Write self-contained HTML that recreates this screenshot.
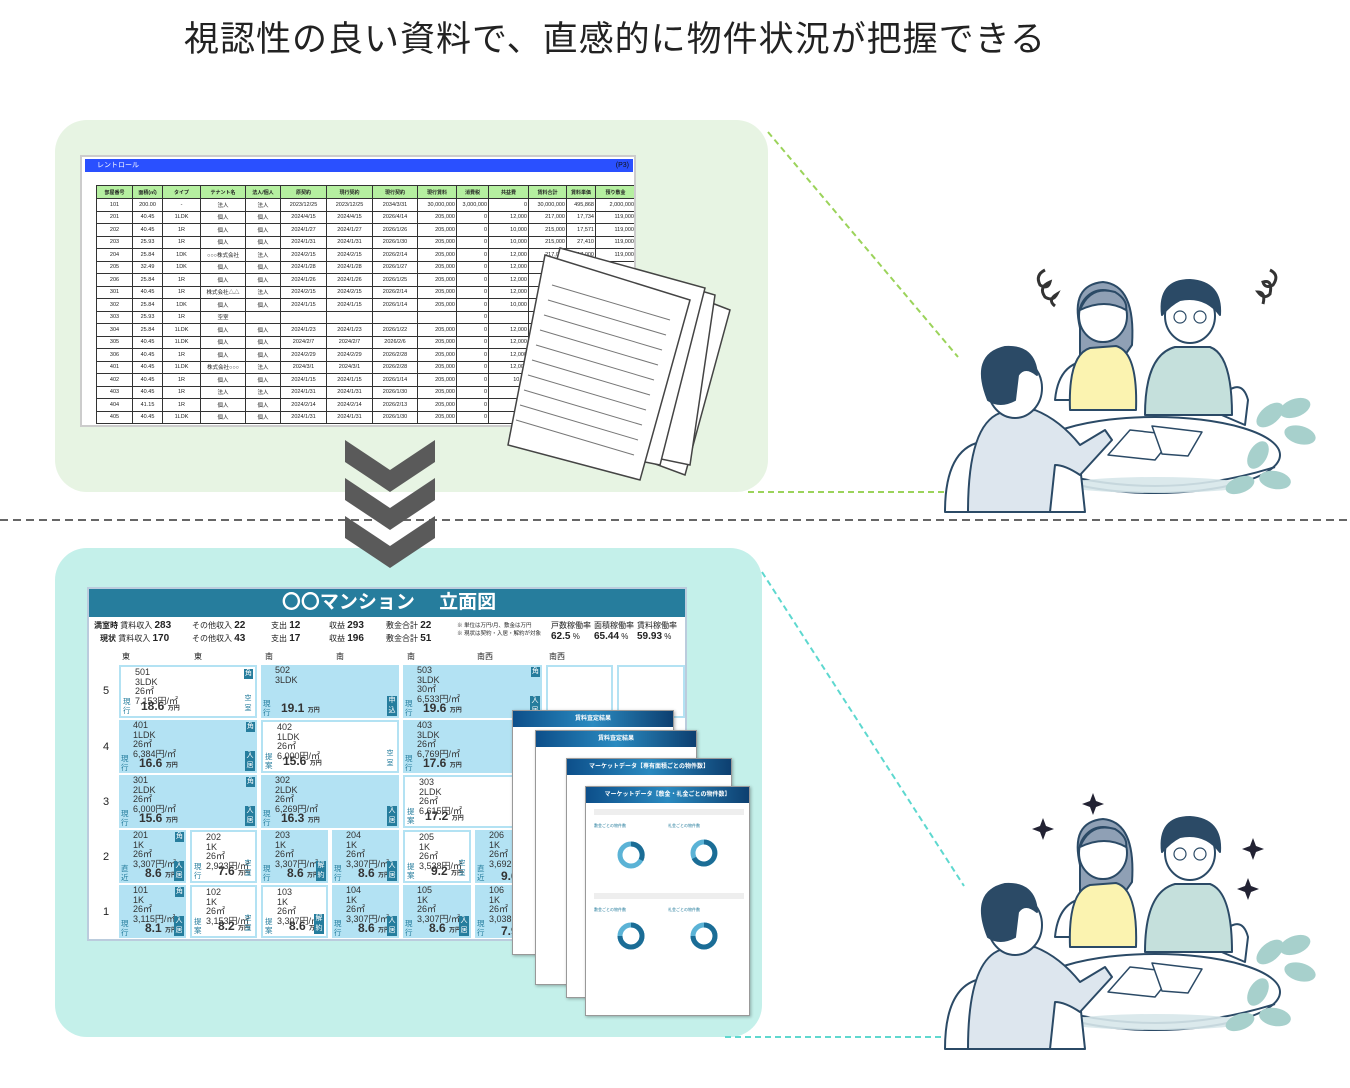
<!DOCTYPE html>
<html><head><meta charset="utf-8">
<style>
*{margin:0;padding:0;box-sizing:border-box}
body{width:1350px;height:1088px;background:#fff;position:relative;overflow:hidden;font-family:"Liberation Sans","Noto Sans CJK JP",sans-serif;color:#222}
.abs{position:absolute}
.title{left:0;width:1230px;top:11px;text-align:center;font-size:35px;color:#222;letter-spacing:1px}
.p1{left:55px;top:120px;width:713px;height:372px;background:#e7f4e3;border-radius:32px}
.p2{left:55px;top:548px;width:707px;height:489px;background:#c4f0ea;border-radius:32px}
.sheet{left:80px;top:155px;width:556px;height:272px;background:#fff;border:2px solid #ccc;overflow:hidden}
.sheet .bar{position:absolute;left:3px;top:2px;width:548px;height:13px;background:#2a50ff;color:#fff;font-size:7px;line-height:13px;padding-left:12px}
.sheet .bar span{position:absolute;right:4px;color:#111}
table.rr{position:absolute;left:14px;top:28px;border-collapse:collapse;font-size:5.5px;width:539px;table-layout:fixed}
table.rr td{border:1px solid #333;height:12.5px;text-align:center;white-space:nowrap;overflow:hidden}
table.rr tr.h td{background:#b5efa0;height:13px;font-size:5px;font-weight:bold}
table.rr td.r{text-align:right;padding-right:1px}
.elev{left:87px;top:587px;width:600px;height:354px;background:#fff;border:2px solid #bcd;overflow:hidden}
.elev .hd{position:absolute;left:0;top:0;width:600px;height:28px;background:#267d9d;color:#fff;font-size:19px;text-align:center;line-height:28px;font-weight:bold}
.info{position:absolute;font-size:8px;white-space:nowrap}
.info b{font-size:10px}
.c{position:absolute;background:#b3e2f3;font-size:9px;line-height:9.5px;color:#333;padding:1px 0 0 14px;overflow:hidden}
.c.w{background:#fff;border:2px solid #b3e2f3}
.c .v{position:absolute;bottom:0;font-size:12px;line-height:13px;font-weight:bold}
.c .v small{font-size:6px}
.c .l{position:absolute;left:2px;bottom:1px;font-size:7.5px;width:9px;line-height:8.5px;color:#267d9d}
.c .tg{position:absolute;right:2px;top:2px;width:9px;height:10px;background:#267d9d;color:#fff;font-size:7px;text-align:center;line-height:10px}
.c .tb{position:absolute;right:2px;bottom:2px;width:10px;height:20px;background:#267d9d;color:#fff;font-size:7px;line-height:10px;text-align:center}
.c .tb.o{background:none;color:#267d9d}
.fl{position:absolute;left:14px;font-size:11px}
.pg{position:absolute;background:#fff;border:1px solid #999;box-shadow:1px 1px 3px rgba(0,0,0,.3)}
.pg .ph{height:16px;background:linear-gradient(90deg,#0d4f8a,#2a8ac0,#0d3f70);color:#fff;font-size:6px;text-align:center;line-height:16px;font-weight:bold}
</style></head><body>
<div class="abs title">視認性の良い資料で、直感的に物件状況が把握できる</div>

<div class="abs p1"></div>
<div class="abs p2"></div>

<svg class="abs" style="left:0;top:0" width="1350" height="1088">
<line x1="0" y1="520" x2="1350" y2="520" stroke="#666" stroke-width="2" stroke-dasharray="8,5"/>
<line x1="768" y1="132" x2="958" y2="357" stroke="#9bd35a" stroke-width="2" stroke-dasharray="6,4"/>
<line x1="748" y1="492" x2="958" y2="492" stroke="#9bd35a" stroke-width="2" stroke-dasharray="6,4"/>
<line x1="762" y1="572" x2="964" y2="886" stroke="#5ed8cf" stroke-width="2" stroke-dasharray="6,4"/>
<line x1="725" y1="1037" x2="958" y2="1037" stroke="#5ed8cf" stroke-width="2" stroke-dasharray="6,4"/>
<g fill="#5a5a5a">
<polygon points="345,440 390,470 435,440 435,462 390,492 345,462"/>
<polygon points="345,478 390,508 435,478 435,500 390,530 345,500"/>
<polygon points="345,516 390,546 435,516 435,538 390,568 345,538"/>
</g>
</svg>

<div class="abs sheet">
<div class="bar">レントロール<span>(P3)</span></div>
<table class="rr">
<colgroup><col style="width:36px"><col style="width:30px"><col style="width:38px"><col style="width:45px"><col style="width:35px"><col style="width:46px"><col style="width:46px"><col style="width:45px"><col style="width:39px"><col style="width:32px"><col style="width:40px"><col style="width:38px"><col style="width:29px"><col style="width:40px"></colgroup>
<tr class="h"><td>部屋番号</td><td>面積(㎡)</td><td>タイプ</td><td>テナント名</td><td>法人/個人</td><td>原契約</td><td>現行契約</td><td>現行契約</td><td>現行賃料</td><td>消費税</td><td>共益費</td><td>賃料合計</td><td>賃料単価</td><td>預り敷金</td></tr>
<tr><td>101</td><td>200.00</td><td>-</td><td>法人</td><td>法人</td><td>2023/12/25</td><td>2023/12/25</td><td>2034/3/31</td><td class="r">30,000,000</td><td class="r">3,000,000</td><td class="r">0</td><td class="r">30,000,000</td><td class="r">495,868</td><td class="r">2,000,000</td></tr>
<tr><td>201</td><td>40.45</td><td>1LDK</td><td>個人</td><td>個人</td><td>2024/4/15</td><td>2024/4/15</td><td>2026/4/14</td><td class="r">205,000</td><td class="r">0</td><td class="r">12,000</td><td class="r">217,000</td><td class="r">17,734</td><td class="r">119,000</td></tr>
<tr><td>202</td><td>40.45</td><td>1R</td><td>個人</td><td>個人</td><td>2024/1/27</td><td>2024/1/27</td><td>2026/1/26</td><td class="r">205,000</td><td class="r">0</td><td class="r">10,000</td><td class="r">215,000</td><td class="r">17,571</td><td class="r">119,000</td></tr>
<tr><td>203</td><td>25.93</td><td>1R</td><td>個人</td><td>個人</td><td>2024/1/31</td><td>2024/1/31</td><td>2026/1/30</td><td class="r">205,000</td><td class="r">0</td><td class="r">10,000</td><td class="r">215,000</td><td class="r">27,410</td><td class="r">119,000</td></tr>
<tr><td>204</td><td>25.84</td><td>1DK</td><td>○○○株式会社</td><td>法人</td><td>2024/2/15</td><td>2024/2/15</td><td>2026/2/14</td><td class="r">205,000</td><td class="r">0</td><td class="r">12,000</td><td class="r">217,000</td><td class="r">17,000</td><td class="r">119,000</td></tr>
<tr><td>205</td><td>32.49</td><td>1DK</td><td>個人</td><td>個人</td><td>2024/1/28</td><td>2024/1/28</td><td>2026/1/27</td><td class="r">205,000</td><td class="r">0</td><td class="r">12,000</td><td class="r">217,000</td><td></td><td></td></tr>
<tr><td>206</td><td>25.84</td><td>1R</td><td>個人</td><td>個人</td><td>2024/1/26</td><td>2024/1/26</td><td>2026/1/25</td><td class="r">205,000</td><td class="r">0</td><td class="r">12,000</td><td class="r">217,000</td><td></td><td></td></tr>
<tr><td>301</td><td>40.45</td><td>1R</td><td>株式会社△△</td><td>法人</td><td>2024/2/15</td><td>2024/2/15</td><td>2026/2/14</td><td class="r">205,000</td><td class="r">0</td><td class="r">12,000</td><td class="r">217,0</td><td></td><td></td></tr>
<tr><td>302</td><td>25.84</td><td>1DK</td><td>個人</td><td>個人</td><td>2024/1/15</td><td>2024/1/15</td><td>2026/1/14</td><td class="r">205,000</td><td class="r">0</td><td class="r">10,000</td><td class="r">215,</td><td></td><td></td></tr>
<tr><td>303</td><td>25.93</td><td>1R</td><td>空室</td><td></td><td></td><td></td><td></td><td></td><td class="r">0</td><td></td><td></td><td></td><td></td></tr>
<tr><td>304</td><td>25.84</td><td>1LDK</td><td>個人</td><td>個人</td><td>2024/1/23</td><td>2024/1/23</td><td>2026/1/22</td><td class="r">205,000</td><td class="r">0</td><td class="r">12,000</td><td></td><td></td><td></td></tr>
<tr><td>305</td><td>40.45</td><td>1LDK</td><td>個人</td><td>個人</td><td>2024/2/7</td><td>2024/2/7</td><td>2026/2/6</td><td class="r">205,000</td><td class="r">0</td><td class="r">12,000</td><td></td><td></td><td></td></tr>
<tr><td>306</td><td>40.45</td><td>1R</td><td>個人</td><td>個人</td><td>2024/2/29</td><td>2024/2/29</td><td>2026/2/28</td><td class="r">205,000</td><td class="r">0</td><td class="r">12,000</td><td></td><td></td><td></td></tr>
<tr><td>401</td><td>40.45</td><td>1LDK</td><td>株式会社○○○</td><td>法人</td><td>2024/3/1</td><td>2024/3/1</td><td>2026/2/28</td><td class="r">205,000</td><td class="r">0</td><td class="r">12,000</td><td></td><td></td><td></td></tr>
<tr><td>402</td><td>40.45</td><td>1R</td><td>個人</td><td>個人</td><td>2024/1/15</td><td>2024/1/15</td><td>2026/1/14</td><td class="r">205,000</td><td class="r">0</td><td class="r">10,00</td><td></td><td></td><td></td></tr>
<tr><td>403</td><td>40.45</td><td>1R</td><td>法人</td><td>法人</td><td>2024/1/31</td><td>2024/1/31</td><td>2026/1/30</td><td class="r">205,000</td><td class="r">0</td><td></td><td></td><td></td><td></td></tr>
<tr><td>404</td><td>41.15</td><td>1R</td><td>個人</td><td>個人</td><td>2024/2/14</td><td>2024/2/14</td><td>2026/2/13</td><td class="r">205,000</td><td class="r">0</td><td></td><td></td><td></td><td></td></tr>
<tr><td>405</td><td>40.45</td><td>1LDK</td><td>個人</td><td>個人</td><td>2024/1/31</td><td>2024/1/31</td><td>2026/1/30</td><td class="r">205,000</td><td class="r">0</td><td></td><td></td><td></td><td></td></tr>
</table>
</div>

<svg class="abs" style="left:490px;top:240px" width="250" height="245">
<g stroke="#444" stroke-width="1.5" fill="#fff">
<polygon points="110,20 240,70 195,235 60,185"/>
<polygon points="90,15 225,55 200,225 55,195"/>
<polygon points="70,8 215,48 170,225 20,195"/>
<polygon points="55,15 200,60 150,240 18,205"/>
</g>
<g stroke="#777" stroke-width="1">
<line x1="62" y1="45" x2="180" y2="80"/><line x1="58" y1="60" x2="176" y2="95"/><line x1="54" y1="75" x2="172" y2="110"/><line x1="50" y1="90" x2="168" y2="125"/><line x1="46" y1="105" x2="164" y2="140"/><line x1="42" y1="120" x2="160" y2="155"/><line x1="38" y1="135" x2="156" y2="170"/><line x1="34" y1="150" x2="152" y2="185"/><line x1="30" y1="165" x2="148" y2="200"/><line x1="26" y1="180" x2="144" y2="215"/>
</g>
</svg>

<div class="abs elev">
<div class="hd">〇〇マンション　 立面図</div>
<div class="info" style="left:5px;top:31px"><b style="font-size:8px">満室時</b> 賃料収入 <b>283</b></div>
<div class="info" style="left:11px;top:44px"><b style="font-size:8px">現状</b> 賃料収入 <b>170</b></div>
<div class="info" style="left:103px;top:31px">その他収入 <b>22</b></div>
<div class="info" style="left:103px;top:44px">その他収入 <b>43</b></div>
<div class="info" style="left:182px;top:31px">支出 <b>12</b></div>
<div class="info" style="left:182px;top:44px">支出 <b>17</b></div>
<div class="info" style="left:240px;top:31px">収益 <b>293</b></div>
<div class="info" style="left:240px;top:44px">収益 <b>196</b></div>
<div class="info" style="left:297px;top:31px">敷金合計 <b>22</b></div>
<div class="info" style="left:297px;top:44px">敷金合計 <b>51</b></div>
<div class="info" style="left:368px;top:32px;font-size:5.5px">※ 単位は万円/月、敷金は万円<br>※ 現状は契約・入居・解約が対象</div>
<div class="info" style="left:462px;top:31px">戸数稼働率<br><b>62.5</b> %</div>
<div class="info" style="left:505px;top:31px">面積稼働率<br><b>65.44</b> %</div>
<div class="info" style="left:548px;top:31px">賃料稼働率<br><b>59.93</b> %</div>
<div class="info" style="left:33px;top:62px;font-size:8px">東</div>
<div class="info" style="left:105px;top:62px;font-size:8px">東</div>
<div class="info" style="left:176px;top:62px;font-size:8px">南</div>
<div class="info" style="left:247px;top:62px;font-size:8px">南</div>
<div class="info" style="left:318px;top:62px;font-size:8px">南</div>
<div class="info" style="left:388px;top:62px;font-size:8px">南西</div>
<div class="info" style="left:460px;top:62px;font-size:8px">南西</div>
<div class="fl" style="top:96px">5</div><div class="fl" style="top:152px">4</div><div class="fl" style="top:207px">3</div><div class="fl" style="top:262px">2</div><div class="fl" style="top:317px">1</div>

<div class="c w" style="left:30px;top:76px;width:138px;height:53px">501<br>3LDK<br>26㎡<br>7,153円/㎡<div class="l">現行</div><div class="v" style="left:20px">18.6 <small>万円</small></div><div class="tg">角</div><div class="tb o">空室</div></div>
<div class="c" style="left:172px;top:76px;width:138px;height:53px">502<br>3LDK<div class="l">現行</div><div class="v" style="left:20px">19.1 <small>万円</small></div><div class="tb">申込</div></div>
<div class="c" style="left:314px;top:76px;width:139px;height:53px">503<br>3LDK<br>30㎡<br>6,533円/㎡<div class="l">現行</div><div class="v" style="left:20px">19.6 <small>万円</small></div><div class="tg">角</div><div class="tb">入居</div></div>
<div class="c w" style="left:457px;top:76px;width:67px;height:53px"></div>
<div class="c w" style="left:528px;top:76px;width:68px;height:53px"></div>

<div class="c" style="left:30px;top:131px;width:138px;height:53px">401<br>1LDK<br>26㎡<br>6,384円/㎡<div class="l">現行</div><div class="v" style="left:20px">16.6 <small>万円</small></div><div class="tg">角</div><div class="tb">入居</div></div>
<div class="c w" style="left:172px;top:131px;width:138px;height:53px">402<br>1LDK<br>26㎡<br>6,000円/㎡<div class="l">提案</div><div class="v" style="left:20px">15.6 <small>万円</small></div><div class="tb o">空室</div></div>
<div class="c" style="left:314px;top:131px;width:139px;height:53px">403<br>3LDK<br>26㎡<br>6,769円/㎡<div class="l">現行</div><div class="v" style="left:20px">17.6 <small>万円</small></div></div>

<div class="c" style="left:30px;top:186px;width:138px;height:53px">301<br>2LDK<br>26㎡<br>6,000円/㎡<div class="l">現行</div><div class="v" style="left:20px">15.6 <small>万円</small></div><div class="tg">角</div><div class="tb">入居</div></div>
<div class="c" style="left:172px;top:186px;width:138px;height:53px">302<br>2LDK<br>26㎡<br>6,269円/㎡<div class="l">現行</div><div class="v" style="left:20px">16.3 <small>万円</small></div><div class="tb">入居</div></div>
<div class="c w" style="left:314px;top:186px;width:139px;height:53px">303<br>2LDK<br>26㎡<br>6,615円/㎡<div class="l">提案</div><div class="v" style="left:20px">17.2 <small>万円</small></div></div>

<div class="c" style="left:30px;top:241px;width:67px;height:53px">201<br>1K<br>26㎡<br>3,307円/㎡<div class="l">直近</div><div class="v" style="left:26px">8.6 <small>万円</small></div><div class="tg">角</div><div class="tb">入居</div></div>
<div class="c w" style="left:101px;top:241px;width:67px;height:53px">202<br>1K<br>26㎡<br>2,923円/㎡<div class="l">現行</div><div class="v" style="left:26px">7.6 <small>万円</small></div><div class="tb o">空室</div></div>
<div class="c" style="left:172px;top:241px;width:67px;height:53px">203<br>1K<br>26㎡<br>3,307円/㎡<div class="l">現行</div><div class="v" style="left:26px">8.6 <small>万円</small></div><div class="tb">解約</div></div>
<div class="c" style="left:243px;top:241px;width:67px;height:53px">204<br>1K<br>26㎡<br>3,307円/㎡<div class="l">現行</div><div class="v" style="left:26px">8.6 <small>万円</small></div><div class="tb">入居</div></div>
<div class="c w" style="left:314px;top:241px;width:68px;height:53px">205<br>1K<br>26㎡<br>3,538円/㎡<div class="l">提案</div><div class="v" style="left:26px">9.2 <small>万円</small></div><div class="tb o">空室</div></div>
<div class="c" style="left:386px;top:241px;width:67px;height:53px">206<br>1K<br>26㎡<br>3,692円<div class="l">直近</div><div class="v" style="left:26px">9.6</div></div>

<div class="c" style="left:30px;top:296px;width:67px;height:53px">101<br>1K<br>26㎡<br>3,115円/㎡<div class="l">現行</div><div class="v" style="left:26px">8.1 <small>万円</small></div><div class="tg">角</div><div class="tb">入居</div></div>
<div class="c w" style="left:101px;top:296px;width:67px;height:53px">102<br>1K<br>26㎡<br>3,153円/㎡<div class="l">提案</div><div class="v" style="left:26px">8.2 <small>万円</small></div><div class="tb o">空室</div></div>
<div class="c w" style="left:172px;top:296px;width:67px;height:53px">103<br>1K<br>26㎡<br>3,307円/㎡<div class="l">提案</div><div class="v" style="left:26px">8.6 <small>万円</small></div><div class="tb">解約</div></div>
<div class="c" style="left:243px;top:296px;width:67px;height:53px">104<br>1K<br>26㎡<br>3,307円/㎡<div class="l">現行</div><div class="v" style="left:26px">8.6 <small>万円</small></div><div class="tb">入居</div></div>
<div class="c" style="left:314px;top:296px;width:68px;height:53px">105<br>1K<br>26㎡<br>3,307円/㎡<div class="l">現行</div><div class="v" style="left:26px">8.6 <small>万円</small></div><div class="tb">入居</div></div>
<div class="c" style="left:386px;top:296px;width:67px;height:53px">106<br>1K<br>26㎡<br>3,038円<div class="l">現行</div><div class="v" style="left:26px">7.9</div></div>
</div>

<div class="pg" style="left:512px;top:710px;width:162px;height:245px"><div class="ph">賃料査定結果</div></div>
<div class="pg" style="left:535px;top:730px;width:162px;height:255px"><div class="ph">賃料査定結果</div></div>
<div class="pg" style="left:566px;top:758px;width:166px;height:240px"><div class="ph">マーケットデータ【専有面積ごとの物件数】</div></div>
<div class="pg" style="left:585px;top:786px;width:165px;height:230px"><div class="ph">マーケットデータ【敷金・礼金ごとの物件数】</div>
<svg width="165" height="214" style="display:block">
<rect x="8" y="6" width="150" height="6" fill="#eee"/>
<text x="8" y="24" font-size="4" fill="#267d9d">敷金ごとの物件数</text><text x="82" y="24" font-size="4" fill="#267d9d">礼金ごとの物件数</text>
<circle cx="45" cy="52" r="11" fill="none" stroke="#5bb3d6" stroke-width="5"/><path d="M45 41 A11 11 0 0 1 55 57" fill="none" stroke="#1b6d96" stroke-width="5"/>
<circle cx="118" cy="50" r="11" fill="none" stroke="#5bb3d6" stroke-width="5"/><path d="M118 39 A11 11 0 1 1 108 55" fill="none" stroke="#1b6d96" stroke-width="5"/>
<rect x="8" y="90" width="150" height="6" fill="#eee"/>
<text x="8" y="108" font-size="4" fill="#267d9d">敷金ごとの物件数</text><text x="82" y="108" font-size="4" fill="#267d9d">礼金ごとの物件数</text>
<circle cx="45" cy="133" r="11" fill="none" stroke="#5bb3d6" stroke-width="5"/><path d="M45 122 A11 11 0 1 1 34 133" fill="none" stroke="#1b6d96" stroke-width="5"/>
<circle cx="118" cy="133" r="11" fill="none" stroke="#5bb3d6" stroke-width="5"/><path d="M118 122 A11 11 0 1 1 107 133" fill="none" stroke="#1b6d96" stroke-width="5"/>
</svg></div>

<svg class="abs" style="left:0;top:0" width="1350" height="1088">
<defs>
<g id="ppl" stroke="#2b4a66" stroke-width="2" stroke-linejoin="round">
<path d="M115 150 Q118 118 140 112 L150 150Z" fill="#fff"/>
<path d="M270 160 Q300 120 308 150 L305 175Z" fill="#fff"/>
<path d="M140 78 Q130 35 163 32 Q196 35 192 95 L185 105 L140 105Z" fill="#8fa0b5"/>
<path d="M130 160 Q128 105 150 98 L176 96 Q198 102 196 160Z" fill="#fbf3b0"/>
<ellipse cx="163" cy="66" rx="24" ry="26" fill="#fff"/>
<path d="M140 60 Q150 35 175 42 Q188 50 186 60 Q165 48 140 60Z" fill="#8fa0b5"/>
<path d="M205 165 Q205 105 235 97 L270 97 Q292 105 292 165Z" fill="#c5e0dc"/>
<ellipse cx="250" cy="66" rx="25" ry="27" fill="#fff"/>
<path d="M222 65 Q218 30 250 30 Q282 32 280 65 Q265 45 240 50 Q230 55 222 65Z" fill="#2b4a66"/>
<circle cx="240" cy="67" r="6" fill="none" stroke-width="1.2"/><circle cx="260" cy="67" r="6" fill="none" stroke-width="1.2"/>
<ellipse cx="215" cy="205" rx="125" ry="38" fill="#fff"/>
<path d="M95 217 Q215 255 335 217" fill="none"/>
<g fill="#d7e7ea" stroke="none" opacity=".9"><ellipse cx="215" cy="235" rx="90" ry="8"/></g>
<polygon points="168,205 190,180 235,185 215,210" fill="#fff" stroke-width="1.5"/>
<polygon points="212,176 262,182 248,206 222,204" fill="#fff" stroke-width="1.5"/>
<path d="M5 262 Q5 200 40 192 L100 190 Q130 200 140 215 L145 262Z" fill="#fff"/>
<path d="M28 262 Q28 175 60 163 L95 160 Q120 170 140 195 L165 180 L172 190 L140 225 Q125 215 115 215 L110 262Z" fill="#dde6ee"/>
<ellipse cx="75" cy="138" rx="27" ry="30" fill="#fff"/>
<path d="M48 150 Q30 105 65 97 Q95 95 97 125 Q85 115 78 125 L75 150 Q60 158 48 150Z" fill="#2b4a66"/>
<g fill="#a7d0cc" stroke="none">
<ellipse cx="330" cy="165" rx="16" ry="9" transform="rotate(-40 330 165)"/><ellipse cx="355" cy="158" rx="16" ry="9" transform="rotate(-20 355 158)"/><ellipse cx="360" cy="185" rx="16" ry="9" transform="rotate(15 360 185)"/><ellipse cx="318" cy="205" rx="15" ry="9" transform="rotate(-60 318 205)"/><ellipse cx="335" cy="230" rx="16" ry="9" transform="rotate(10 335 230)"/><ellipse cx="300" cy="235" rx="15" ry="8" transform="rotate(-20 300 235)"/></g>
</g>
</defs>
<use href="#ppl" x="940" y="250"/>
<use href="#ppl" x="940" y="787"/>
<g fill="none" stroke="#333" stroke-width="3">
<path d="M1045 270 q-10 5 -5 15 q8 5 10 -3 q-12 5 -5 15 q8 5 12 -3 q-10 6 -2 12"/>
<path d="M1270 270 q10 5 3 15 q-8 4 -10 -3 q10 -3 7 12 q-6 6 -12 -2 q8 0 5 12"/>
</g>
<g fill="#223">
<path d="M1043 818 l3 8 8 3 -8 3 -3 8 -3 -8 -8 -3 8 -3z"/>
<path d="M1093 793 l3 8 8 3 -8 3 -3 8 -3 -8 -8 -3 8 -3z"/>
<path d="M1253 838 l3 8 8 3 -8 3 -3 8 -3 -8 -8 -3 8 -3z"/>
<path d="M1248 878 l3 8 8 3 -8 3 -3 8 -3 -8 -8 -3 8 -3z"/>
</g>
</svg>
</body></html>
